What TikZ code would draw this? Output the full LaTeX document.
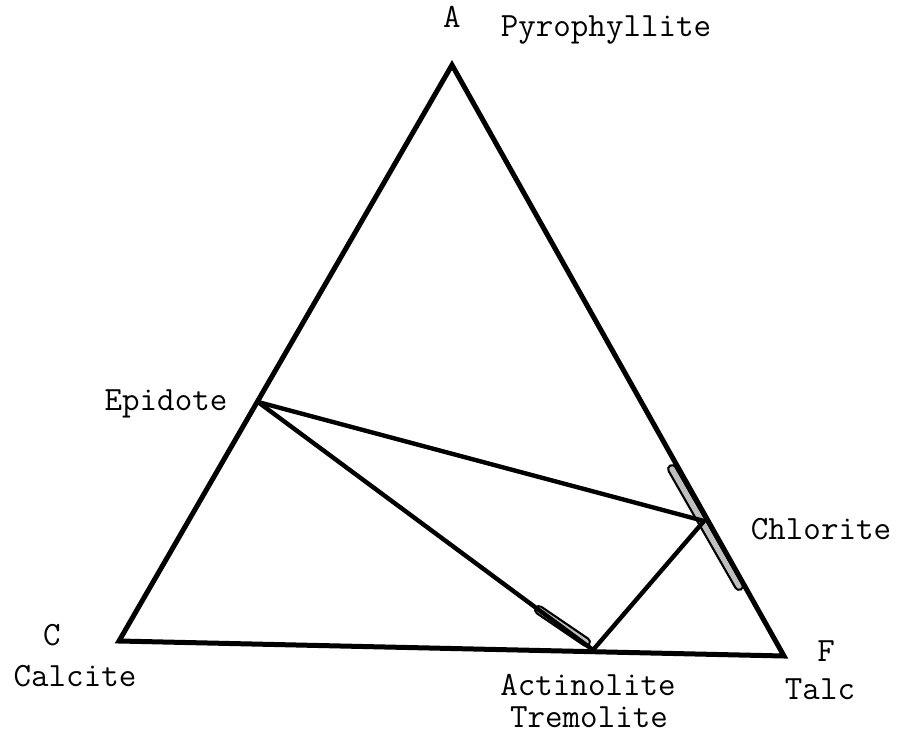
\documentclass[tikz,border=0pt]{standalone}
\usepackage{fontspec}
\begin{document}
\begin{tikzpicture}[x=1pt,y=-1pt,
  lbl/.style={font=\ttfamily\fontsize{34}{38}\selectfont, inner sep=0pt, anchor=center},
  edge/.style={line width=5pt, line cap=round, line join=miter},
  tie/.style={line width=4.4pt, line cap=round},
  barout/.style={line width=10pt, line cap=round, black},
  barin/.style={line width=5.5pt, line cap=round, gray!50}]
\useasboundingbox (0,0) rectangle (903,736);
\fill[white] (0,0) rectangle (903,736);
% vertices
\coordinate (A) at (452,65);
\coordinate (C) at (119,641);
\coordinate (F) at (784,656);
\coordinate (Ep) at (258,402);
\coordinate (Ch) at (704,521);
\coordinate (Ac) at (593,650);
% solution bars
\coordinate (ch1) at (672,469);
\coordinate (ch2) at (739,586);
\coordinate (ac1) at (539,610);
\coordinate (ac2) at (586,642);
\draw[barout] (ch1) -- (ch2);
\draw[barin] (ch1) -- (ch2);
\draw[barout] (ac1) -- (ac2);
\draw[barin] (ac1) -- (ac2);
% triangle
\draw[edge] (A) -- (F) -- (C) -- cycle;
% tie lines
\draw[tie] (Ep) -- (Ch);
\draw[tie] (Ep) -- (Ac);
\draw[tie] (Ac) -- (Ch);
% labels
\node[lbl] (lA) at (452,17) {A};
\node[lbl] (lPy) at (606,30) {Pyrophyllite};
\node[lbl] (lEp) at (166,404) {Epidote};
\node[lbl] (lCh) at (821,529) {Chlorite};
\node[lbl] (lC) at (52,635) {C};
\node[lbl] (lCa) at (75,676) {Calcite};
\node[lbl] (lAc) at (588,685) {Actinolite};
\node[lbl] (lTr) at (589,717) {Tremolite};
\node[lbl] (lF) at (826,651) {F};
\node[lbl] (lTa) at (820,689) {Talc};
\end{tikzpicture}
\end{document}
